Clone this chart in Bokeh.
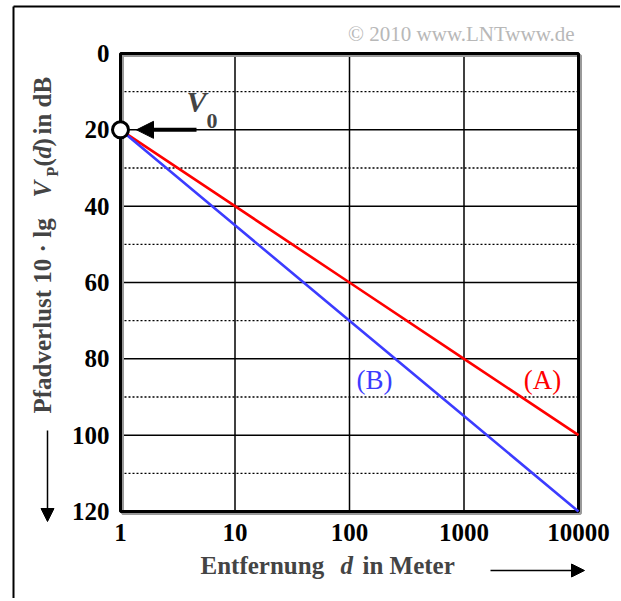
import math
from bokeh.plotting import figure
from bokeh.models import Range1d, Label, Arrow, NormalHead
from bokeh.core.properties import value
from bokeh.embed import file_html
from bokeh.resources import INLINE

# ---- data ----
distance_m = [1, 10, 100, 1000, 10000]
loss_A_dB = [20, 40, 60, 80, 100]
loss_B_dB = [20, 45, 70, 95, 120]
x_ticks = [1, 10, 100, 1000, 10000]
x_tick_labels = ["1", "10", "100", "1000", "10000"]
y_ticks = [0, 20, 40, 60, 80, 100, 120]
y_tick_labels = ["0", "20", "40", "60", "80", "100", "120"]
y_minor_ticks = [10, 30, 50, 70, 90, 110]
V0_dB = 20
x_min, x_max = 1, 10000
y_min, y_max = 0, 120

# ---- layout (pixel positions of the plotting box on the page) ----
W, H = 620, 598
FL, FR, FT, FB = 120, 578, 53, 511
SERIF = "Liberation Serif"

def X(cx):
    dec = math.log10(x_max) - math.log10(x_min)
    return 10 ** (math.log10(x_min) + (cx - FL) / (FR - FL) * dec)

def Y(cy):
    return y_min + (cy - FT) / (FB - FT) * (y_max - y_min)

# the frame covers the whole page so that every text and arrow stays visible
p = figure(width=W, height=H, x_axis_type="log",
           x_range=Range1d(X(0), X(W)), y_range=Range1d(Y(H), Y(0)),
           output_backend="svg", toolbar_location=None,
           x_axis_location=None, y_axis_location=None,
           min_border=0)
p.outline_line_color = None
p.background_fill_color = "white"
p.border_fill_color = "white"
p.grid.visible = False

# outer frame (top and left edges of the picture)
p.segment(x0=[X(13), X(13)], y0=[Y(6), Y(6)], x1=[X(W + 5), X(13)], y1=[Y(6), Y(H + 5)],
          line_color="black", line_width=2)

# grid lines
nx, ny, nm = len(x_ticks), len(y_ticks), len(y_minor_ticks)
p.segment(x0=x_ticks, y0=[y_min] * nx, x1=x_ticks, y1=[y_max] * nx,
          line_color="black", line_width=1.5)
p.segment(x0=[x_min] * ny, y0=y_ticks, x1=[x_max] * ny, y1=y_ticks,
          line_color="black", line_width=1.5)
p.segment(x0=[x_min] * nm, y0=y_minor_ticks, x1=[x_max] * nm, y1=y_minor_ticks,
          line_color="black", line_width=1.3, line_dash="2 2")

# plotting box border with slight shadow
p.quad(left=[X(FL + 2)], right=[X(FR + 2)], top=[Y(FT + 2)], bottom=[Y(FB + 2)],
       fill_color=None, line_color="#9a9a9a", line_width=3)
p.quad(left=[x_min], right=[x_max], top=[y_min], bottom=[y_max],
       fill_color=None, line_color="black", line_width=3)

# tick labels
p.text(x=x_ticks, y=[Y(FB + 12)] * nx, text=x_tick_labels,
       text_font=value(SERIF), text_font_style="bold", text_font_size="25px",
       text_align="center", text_baseline="top", text_color="black")
p.text(x=[X(FL - 11)] * ny, y=y_ticks, text=y_tick_labels,
       text_font=value(SERIF), text_font_style="bold", text_font_size="25px",
       text_align="right", text_baseline="middle", text_color="black")

# curves
p.line(distance_m, loss_A_dB, line_color="#ff0000", line_width=2.6)
p.line(distance_m, loss_B_dB, line_color="#3c3cff", line_width=2.6)

# V0 marker
p.scatter([distance_m[0]], [V0_dB], size=16, fill_color="white",
          line_color="black", line_width=3)
p.add_layout(Arrow(x_start=X(196), y_start=V0_dB, x_end=X(136), y_end=V0_dB,
                   line_width=4, line_color="black",
                   end=NormalHead(size=17, fill_color="black", line_color="black")))
p.add_layout(Label(x=X(186), y=Y(117), text="V", text_font=SERIF,
                   text_font_style="bold italic", text_font_size="30px"))
p.add_layout(Label(x=X(206), y=Y(127), text="0", text_font=SERIF,
                   text_font_style="bold", text_font_size="22px"))

# curve labels
p.add_layout(Label(x=X(542), y=Y(379), text="(A)", text_font=SERIF,
                   text_font_size="27px", text_color="#ff0000",
                   text_align="center", text_baseline="middle"))
p.add_layout(Label(x=X(374), y=Y(379), text="(B)", text_font=SERIF,
                   text_font_size="27px", text_color="#3c3cff",
                   text_align="center", text_baseline="middle"))

# copyright
p.add_layout(Label(x=X(574), y=Y(33), text="\u00a9 2010 www.LNTwww.de",
                   text_font=SERIF, text_font_size="21px", text_color="#b8b8b8",
                   text_align="right", text_baseline="middle"))

# x-axis title
p.add_layout(Label(x=X(200), y=Y(578), text="Entfernung", text_font=SERIF,
                   text_font_style="bold", text_font_size="25px"))
p.add_layout(Label(x=X(340), y=Y(578), text="d", text_font=SERIF,
                   text_font_style="bold italic", text_font_size="25px"))
p.add_layout(Label(x=X(362), y=Y(578), text="in Meter", text_font=SERIF,
                   text_font_style="bold", text_font_size="25px"))
p.add_layout(Arrow(x_start=X(490), y_start=Y(570), x_end=X(584), y_end=Y(570),
                   line_width=1.5, line_color="black",
                   end=NormalHead(size=13, fill_color="black", line_color="black")))

# y-axis title (rotated pieces, reading bottom to top)
rot = math.pi / 2
BX = 55
p.add_layout(Label(x=X(BX), y=Y(413), text="Pfadverlust 10 \u00b7 lg", angle=rot,
                   text_font=SERIF, text_font_style="bold", text_font_size="25px"))
p.add_layout(Label(x=X(BX), y=Y(197), text="V", angle=rot,
                   text_font=SERIF, text_font_style="bold italic", text_font_size="25px"))
p.add_layout(Label(x=X(BX + 5), y=Y(176), text="P", angle=rot,
                   text_font=SERIF, text_font_style="bold", text_font_size="16px"))
p.add_layout(Label(x=X(BX), y=Y(166), text="(", angle=rot,
                   text_font=SERIF, text_font_style="bold", text_font_size="25px"))
p.add_layout(Label(x=X(BX), y=Y(158), text="d", angle=rot,
                   text_font=SERIF, text_font_style="bold italic", text_font_size="25px"))
p.add_layout(Label(x=X(BX), y=Y(146), text=")", angle=rot,
                   text_font=SERIF, text_font_style="bold", text_font_size="25px"))
p.add_layout(Label(x=X(BX), y=Y(134), text="in dB", angle=rot,
                   text_font=SERIF, text_font_style="bold", text_font_size="25px"))
p.add_layout(Arrow(x_start=X(47), y_start=Y(430), x_end=X(47), y_end=Y(521),
                   line_width=1.5, line_color="black",
                   end=NormalHead(size=13, fill_color="black", line_color="black")))

open("out.html", "w").write(file_html(p, INLINE))
